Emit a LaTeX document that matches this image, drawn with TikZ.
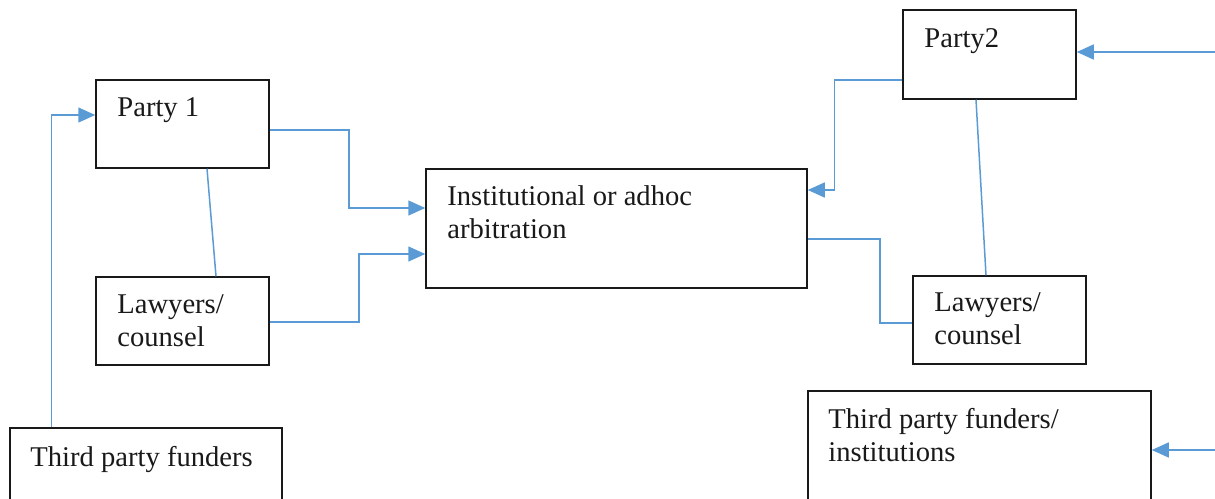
\documentclass[tikz,border=0pt]{standalone}
\usepackage{fontspec}
\setmainfont{Liberation Serif}
\usetikzlibrary{arrows.meta}
\definecolor{conncol}{HTML}{5B9BD5}
\tikzset{
  box/.style={draw=black!90, line width=0.75pt, inner sep=0pt, fill=white},
  txt/.style={anchor=base west, inner sep=0pt, align=left, font=\fontsize{14.3}{16.5}\selectfont, text=black!90},
  conn/.style={draw=conncol, line width=0.75pt},
  arr/.style={conn, -{Triangle[length=8.5pt,width=7.5pt]}}
}
\begin{document}
\begin{tikzpicture}[x=0.5pt,y=-0.5pt]
\useasboundingbox (0,0) rectangle (1215,498);
\clip (0,0) rectangle (1215,498);
% boxes
\node[box, minimum width=86.5pt, minimum height=44pt] (p1) at (182.5,124) {};
\node[box, minimum width=86.5pt, minimum height=44pt] (lawl) at (182.5,321) {};
\node[box, minimum width=136pt, minimum height=56pt] (tpf) at (146,484) {};
\node[box, minimum width=190.5pt, minimum height=59.5pt] (inst) at (616.5,228.5) {};
\node[box, minimum width=86.5pt, minimum height=44.5pt] (p2) at (989.5,54.5) {};
\node[box, minimum width=86.5pt, minimum height=44pt] (lawr) at (999.5,320) {};
\node[box, minimum width=171.5pt, minimum height=74.5pt] (tpfi) at (979.5,465.5) {};
% texts (base = baseline of last line)
\node[txt] (tp1) at (117,116) {Party 1};
\node[txt] (tlawl) at (117,346) {Lawyers/\\counsel};
\node[txt] (ttpf) at (30,466) {Third party funders};
\node[txt] (tinst) at (447,238) {Institutional or adhoc\\arbitration};
\node[txt] (tp2) at (924,47) {Party2};
\node[txt] (tlawr) at (934,344) {Lawyers/\\counsel};
\node[txt] (ttpfi) at (828,461) {Third party funders/\\institutions};
% free ends
\coordinate (e1) at (1215,52);
\coordinate (e2) at (1215,450);
% connectors
\draw[arr] ([shift={(42,0)}]tpf.north west) |- ([shift={(0,-9)}]p1.west);
\draw[arr] ([shift={(0,6)}]p1.east) -- ++(79,0) |- ([shift={(0,-20.5)}]inst.west);
\draw[arr] ([shift={(0,1)}]lawl.east) -- ++(89,0) |- ([shift={(0,25.5)}]inst.west);
\draw[conn] ([shift={(24.5,0)}]p1.south) -- ([shift={(33.5,0)}]lawl.north);
\draw[arr] ([shift={(0,25.5)}]p2.west) -- ++(-68,0) |- ([shift={(0,-38.5)}]inst.east);
\draw[conn] ([shift={(-13.5,0)}]p2.south) -- ([shift={(-13.5,0)}]lawr.north);
\draw[conn] ([shift={(0,10.5)}]inst.east) -- ++(72,0) |- ([shift={(0,3)}]lawr.west);
\draw[arr] (e1) -- ([shift={(0,-2.5)}]p2.east);
\draw[arr] (e2) -- ([shift={(0,-15.5)}]tpfi.east);
\end{tikzpicture}
\end{document}
